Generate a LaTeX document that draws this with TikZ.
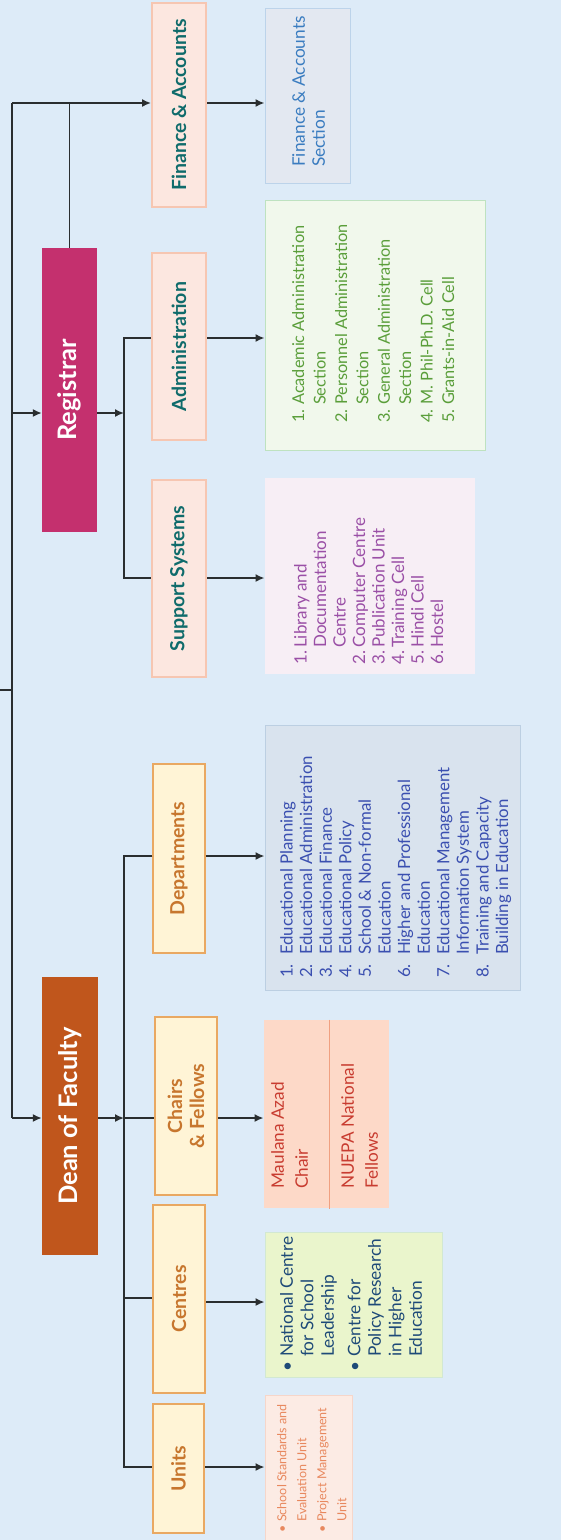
\documentclass[tikz,border=0pt]{standalone}
\usepackage{fontspec}
\setmainfont{Lato}
\usetikzlibrary{arrows.meta}
\definecolor{bg}{HTML}{DDEBF8}
\definecolor{linec}{HTML}{2A2E30}
\definecolor{regc}{HTML}{C4306E}
\definecolor{deanc}{HTML}{C0561C}
\definecolor{pinkfill}{HTML}{FCE7E0}
\definecolor{pinkdraw}{HTML}{F6C6B2}
\definecolor{tealt}{HTML}{0F6B6B}
\definecolor{yelfill}{HTML}{FFF4D6}
\definecolor{yeldraw}{HTML}{E9A862}
\definecolor{orat}{HTML}{C7762E}
\definecolor{fasfill}{HTML}{E3E8F1}
\definecolor{fasdraw}{HTML}{BCD3EA}
\definecolor{fast}{HTML}{3A7CC0}
\definecolor{adfill}{HTML}{F1F8EC}
\definecolor{addraw}{HTML}{BEE2C0}
\definecolor{adt}{HTML}{5A9E3A}
\definecolor{sufill}{HTML}{F7EEF5}
\definecolor{sut}{HTML}{9A4FA6}
\definecolor{defill}{HTML}{D9E3EE}
\definecolor{dedraw}{HTML}{BCCFE2}
\definecolor{det}{HTML}{3A4FB0}
\definecolor{chfill}{HTML}{FDD9C8}
\definecolor{chdiv}{HTML}{F0A080}
\definecolor{cht}{HTML}{C83C30}
\definecolor{cefill}{HTML}{EAF5CC}
\definecolor{cedraw}{HTML}{D2E8D2}
\definecolor{cet}{HTML}{1E4A78}
\definecolor{unfill}{HTML}{FCEBE4}
\definecolor{undraw}{HTML}{F6D6CA}
\definecolor{unt}{HTML}{E8885E}
\newcommand\myfs[2]{\fontsize{#1}{#2}\selectfont}
\begin{document}
\begin{tikzpicture}[x=1pt,y=-1pt,
  conn/.style={draw=linec, line width=1.6pt},
  arr/.style={conn, -{Latex[length=9pt,width=8pt]}},
  lbl/.style={rotate=90, inner sep=0pt, align=center, font=\bfseries\myfs{19.5}{22}},
  pinkbox/.style={lbl, fill=pinkfill, draw=pinkdraw, line width=2pt, text=tealt},
  yelbox/.style={lbl, fill=yelfill, draw=yeldraw, line width=1.5pt, text=orat},
  headbox/.style={lbl, text=white, font=\bfseries\myfs{25.5}{28}},
  cbox/.style={rotate=90, inner sep=0pt, line width=1pt},
  ctext/.style={rotate=90, inner sep=0pt, anchor=north west, align=left}
]
\fill[bg] (0,0) rectangle (561,1540);
\useasboundingbox (0,0) rectangle (561,1540);

% head boxes
\node[headbox, fill=regc, minimum width=284pt, minimum height=55pt] (reg) at (69.5,390) {Registrar};
\node[headbox, fill=deanc, minimum width=278pt, minimum height=56pt] (dean) at (70,1116) {Dean of Faculty};

% second level
\node[pinkbox, minimum width=204pt, minimum height=54pt] (fa) at (179,105) {Finance \& Accounts};
\node[pinkbox, minimum width=187pt, minimum height=54pt] (adm) at (179,346.5) {Administration};
\node[pinkbox, minimum width=197pt, minimum height=54pt] (sup) at (179,578.5) {Support Systems};
\node[yelbox, minimum width=189pt, minimum height=52pt] (dep) at (179,858.5) {Departments};
\node[yelbox, minimum width=178pt, minimum height=62pt] (chf) at (186,1106) {Chairs\\\& Fellows};
\node[yelbox, minimum width=188pt, minimum height=52pt] (cen) at (179,1299) {Centres};
\node[yelbox, minimum width=129pt, minimum height=51pt] (uni) at (178.5,1468.5) {Units};

% content boxes
\node[cbox, fill=fasfill, draw=fasdraw, minimum width=175pt, minimum height=85pt] (fas) at (307.5,95.5) {};
\node[ctext, text=fast, font=\myfs{17.3}{20}] (fast) at (292,167) {Finance \& Accounts\\Section};

\node[cbox, fill=adfill, draw=addraw, minimum width=250pt, minimum height=220pt] (adc) at (375,325) {};
\node[ctext, text=adt, font=\myfs{16.3}{21.4}] (adct) at (292,423) {%
\makebox[18pt][l]{1.}Academic Administration\\
\hspace*{18pt}Section\\
\makebox[18pt][l]{2.}Personnel Administration\\
\hspace*{18pt}Section\\
\makebox[18pt][l]{3.}General Administration\\
\hspace*{18pt}Section\\
\makebox[18pt][l]{4.}M. Phil-Ph.D. Cell\\
\makebox[18pt][l]{5.}Grants-in-Aid Cell};

\node[cbox, fill=sufill, minimum width=196pt, minimum height=210pt] (suc) at (370,576) {};
\node[ctext, text=sut, font=\myfs{17}{19.5}] (suct) at (294,665) {%
\makebox[17pt][l]{1.}Library and\\
\hspace*{17pt}Documentation\\
\hspace*{17pt}Centre\\
\makebox[17pt][l]{2.}Computer Centre\\
\makebox[17pt][l]{3.}Publication Unit\\
\makebox[17pt][l]{4.}Training Cell\\
\makebox[17pt][l]{5.}Hindi Cell\\
\makebox[17pt][l]{6.}Hostel};

\node[cbox, fill=defill, draw=dedraw, minimum width=265pt, minimum height=255pt] (dec) at (392.5,857.5) {};
\node[ctext, text=det, font=\myfs{16.8}{19.6}] (dect) at (280,978) {%
\makebox[23pt][l]{1.}Educational Planning\\
\makebox[23pt][l]{2.}Educational Administration\\
\makebox[23pt][l]{3.}Educational Finance\\
\makebox[23pt][l]{4.}Educational Policy\\
\makebox[23pt][l]{5.}School \& Non-formal\\
\hspace*{23pt}Education\\
\makebox[23pt][l]{6.}Higher and Professional\\
\hspace*{23pt}Education\\
\makebox[23pt][l]{7.}Educational Management\\
\hspace*{23pt}Information System\\
\makebox[23pt][l]{8.}Training and Capacity\\
\hspace*{23pt}Building in Education};

\node[cbox, fill=chfill, minimum width=188pt, minimum height=125pt] (chc) at (326.5,1114) {};
\draw[draw=chdiv, line width=1pt] (chc.north east -| 329,0) -- (chc.north west -| 329,0);
\node[ctext, text=cht, font=\myfs{17.2}{24}] (chta) at (271,1189) {Maulana Azad\\Chair};
\node[ctext, text=cht, font=\myfs{17.2}{24}] (chtb) at (341,1189) {NUEPA National\\Fellows};

\node[cbox, fill=cefill, draw=cedraw, minimum width=145pt, minimum height=177pt] (cec) at (353.5,1304.5) {};
\node[ctext, text=cet, font=\myfs{17.3}{20.5}] (cect) at (280,1372) {%
\makebox[15pt][l]{\textbullet}National Centre\\
\hspace*{15pt}for School\\
\hspace*{15pt}Leadership\\[6pt]
\makebox[15pt][l]{\textbullet}Centre for\\
\hspace*{15pt}Policy Research\\
\hspace*{15pt}in Higher\\
\hspace*{15pt}Education};

\node[cbox, fill=unfill, draw=undraw, minimum width=150pt, minimum height=87pt] (unc) at (308.5,1470) {};
\node[ctext, text=unt, font=\myfs{12.5}{20}] (unct) at (277,1533) {%
\makebox[11pt][l]{\textbullet}School Standards and\\
\hspace*{11pt}Evaluation Unit\\
\makebox[11pt][l]{\textbullet}Project Management\\
\hspace*{11pt}Unit};

% connectors
\coordinate (tTop) at (12,103);
\coordinate (tBot) at (12,1118);
\coordinate (inL) at (0,690);
\draw[conn] (tTop) -- (tBot);
\draw[conn] (inL) -- (inL -| tTop);
\draw[arr] (tTop) -- (fa.north |- tTop);
\draw[conn] (reg.east) -- (reg.east |- tTop);
\draw[arr] (fa.south |- tTop) -- (fas.north |- tTop);

\coordinate (rY) at (0,413);
\coordinate (rBus) at (124,413);
\coordinate (rA) at (124,338);
\coordinate (rS) at (124,578);
\draw[arr] (tTop |- rY) -- (reg.north |- rY);
\draw[arr] (reg.south |- rY) -- (rBus);
\draw[conn] (adm.north |- rA) -- (rA) -- (rS) -- (sup.north |- rS);
\draw[arr] (adm.south |- rA) -- (adc.north |- rA);
\draw[arr] (sup.south |- rS) -- (suc.north |- rS);

\coordinate (dBus) at (124,1118);
\coordinate (dD) at (124,856);
\coordinate (dC) at (124,1298);
\coordinate (dU) at (124,1467);
\coordinate (cY) at (0,1302);
\draw[arr] (tBot) -- (dean.north |- tBot);
\draw[arr] (dean.south |- tBot) -- (dBus);
\draw[conn] (dep.north |- dD) -- (dD) -- (dU) -- (uni.north |- dU);
\draw[conn] (dBus) -- (chf.north |- dBus);
\draw[conn] (dC) -- (cen.north |- dC);
\draw[arr] (dep.south |- dD) -- (dec.north |- dD);
\draw[arr] (chf.south |- dBus) -- (chc.north |- dBus);
\draw[arr] (cen.south |- cY) -- (cec.north |- cY);
\draw[arr] (uni.south |- dU) -- (unc.north |- dU);
\end{tikzpicture}
\end{document}
